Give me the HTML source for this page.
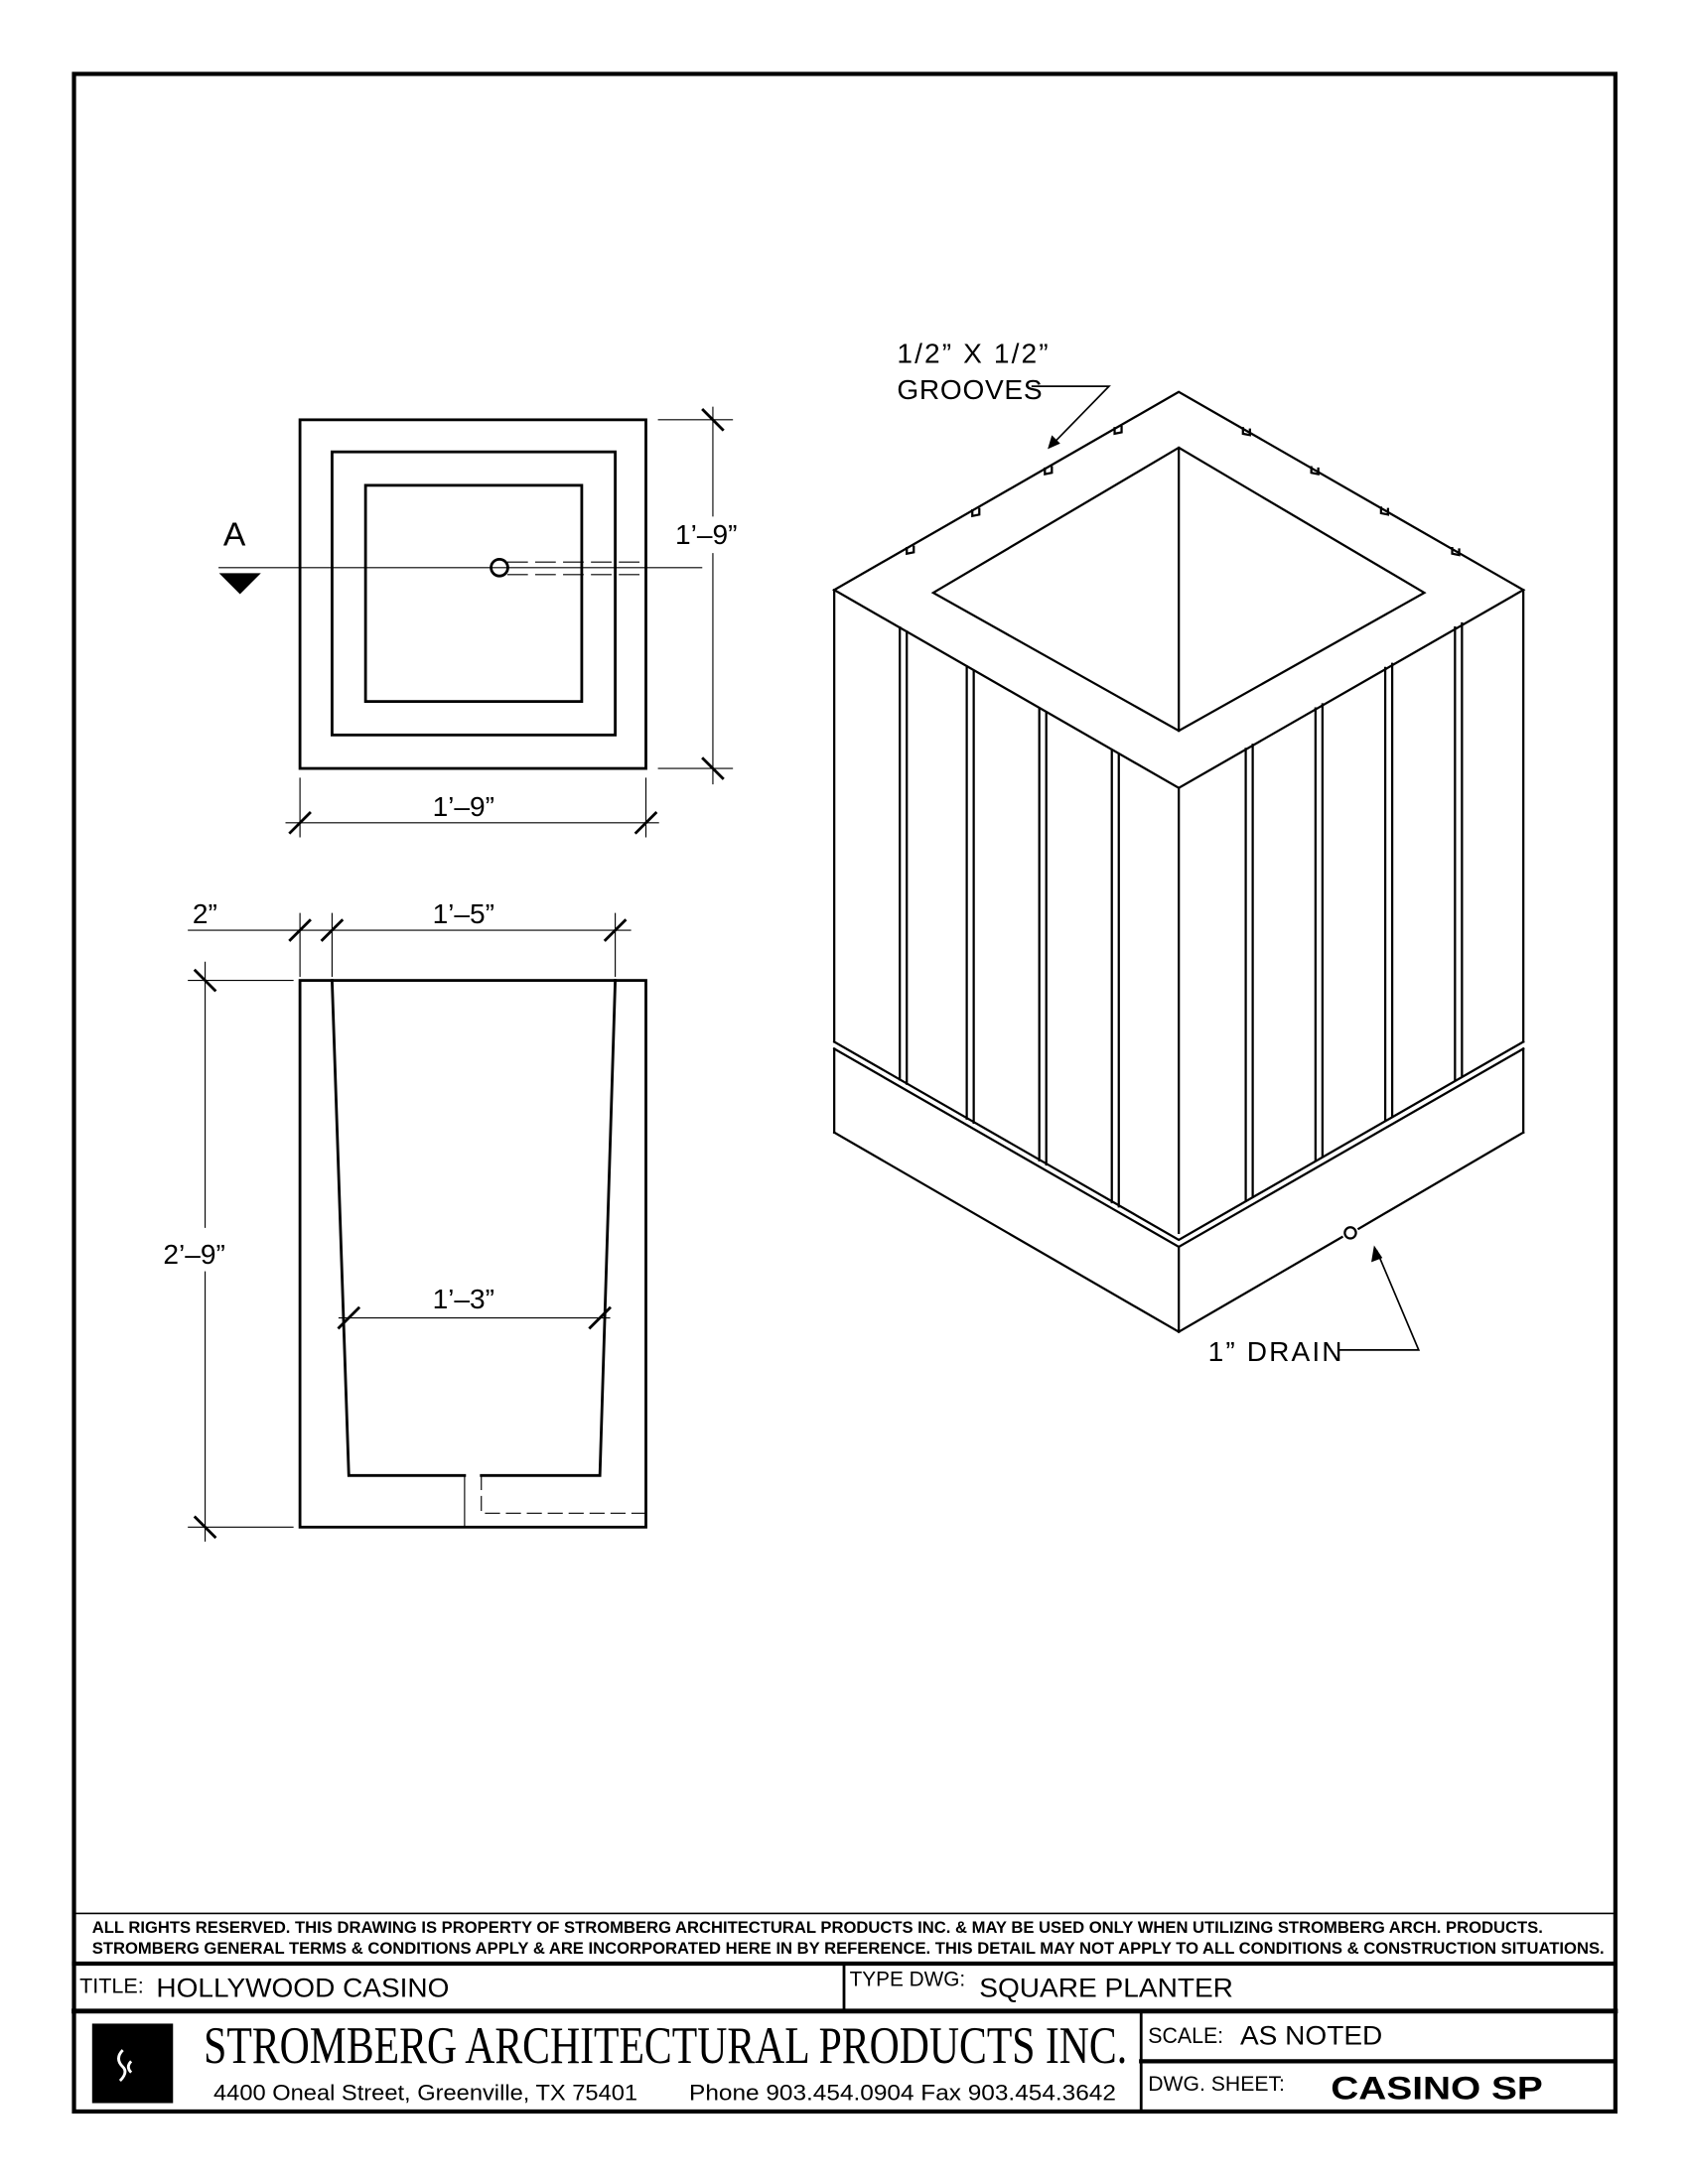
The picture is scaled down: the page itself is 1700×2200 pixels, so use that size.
<!DOCTYPE html>
<html><head><meta charset="utf-8"><style>
html,body{margin:0;padding:0;background:#fff;}
svg{display:block;}
text{font-family:"Liberation Sans",sans-serif;fill:#000;}
</style></head><body>
<svg width="1700" height="2200" viewBox="0 0 1210 1566" xmlns="http://www.w3.org/2000/svg">
<g fill="none" stroke="#000" stroke-linecap="square">
<rect x="53" y="53" width="1105" height="1461" stroke-width="3"/>
<line x1="53" y1="1372" x2="1158" y2="1372" stroke-width="1.2"/>
<line x1="53" y1="1408" x2="1158" y2="1408" stroke-width="3"/>
<line x1="53" y1="1442" x2="1158" y2="1442" stroke-width="3.5"/>
<line x1="605" y1="1408" x2="605" y2="1442" stroke-width="2"/>
<line x1="818" y1="1442" x2="818" y2="1514" stroke-width="2"/>
<line x1="818" y1="1478" x2="1158" y2="1478" stroke-width="3"/>

<rect x="215" y="301" width="248" height="250" stroke-width="2"/>
<rect x="238" y="324" width="203" height="203" stroke-width="2"/>
<rect x="262" y="348" width="155" height="155" stroke-width="2"/>
<line x1="157" y1="407" x2="503" y2="407" stroke-width="0.8"/>
<circle cx="358" cy="407" r="6" stroke-width="2"/>
<path d="M364 403H463 M364 412H463" stroke-width="0.8" stroke-dasharray="14,6"/>
<line x1="511" y1="292" x2="511" y2="370" stroke-width="0.8"/>
<line x1="511" y1="397" x2="511" y2="562" stroke-width="0.8"/>
<path d="M472 301H525 M472 551H525" stroke-width="0.8"/>
<path d="M504 294L518 308 M504 544L518 558" stroke-width="2"/>
<line x1="205" y1="590" x2="472" y2="590" stroke-width="0.8"/>
<path d="M215 558V600 M463 558V600" stroke-width="0.8"/>
<path d="M208 597L222 583 M456 597L470 583" stroke-width="2"/>

<rect x="215" y="703" width="248" height="392" stroke-width="2"/>
<path d="M238 703L250 1058H333 M345 1058H430L441 703" stroke-width="2"/>
<line x1="333" y1="1058" x2="333" y2="1095" stroke-width="0.8"/>
<path d="M345 1058V1085H463" stroke-width="0.8" stroke-dasharray="10,5"/>
<line x1="135" y1="667" x2="452" y2="667" stroke-width="0.8"/>
<path d="M215 655V700 M238 655V700 M441 655V700" stroke-width="0.8"/>
<path d="M208 674L222 660 M231 674L245 660 M434 674L448 660" stroke-width="2"/>
<line x1="147" y1="690" x2="147" y2="880" stroke-width="0.8"/>
<line x1="147" y1="912" x2="147" y2="1105" stroke-width="0.8"/>
<path d="M135 703H210 M135 1095H210" stroke-width="0.8"/>
<path d="M140 696L154 710 M140 1088L154 1102" stroke-width="2"/>
<line x1="243" y1="945" x2="437" y2="945" stroke-width="0.8"/>
<path d="M243 952L257 938 M423 952L437 938" stroke-width="2"/>

<g stroke-width="1.6" stroke-linejoin="miter">
<path d="M845 281L598 423L845 565L1092 423Z"/>
<path d="M845 321L669 425L845 524L1021 425Z"/>
<line x1="845" y1="321" x2="845" y2="524"/>
<line x1="598" y1="423" x2="598" y2="747"/>
<line x1="1092" y1="423" x2="1092" y2="747"/>
<line x1="845" y1="565" x2="845" y2="884"/>
<path d="M598 747L845 889L1092 747"/>
<path d="M598 752L845 894L1092 752"/>
<line x1="598" y1="752" x2="598" y2="812"/>
<line x1="1092" y1="752" x2="1092" y2="812"/>
<line x1="845" y1="894" x2="845" y2="955"/>
<path d="M598 812L845 955L962 887 M974 881L1092 812"/>
<path d="M645 450V774 M650 453V777 M693 478V802 M698 481V805 M745 508V832 M750 511V835 M797 538V862 M802 541V865"/>
<path d="M893 537V861 M898 534V858 M943 508V832 M948 505V829 M993 479V803 M998 476V800 M1043 450V774 M1048 447V771"/>
<path d="M650 393l0 4 5 -1 0 -4 M697 366l0 4 5 -1 0 -4 M749 336l0 4 5 -1 0 -4 M799 307l0 4 5 -1 0 -4"/>
<path d="M891 307l0 4 5 1 0 -4 M940 335l0 4 5 1 0 -4 M990 364l0 4 5 1 0 -4 M1041 393l0 4 5 1 0 -4"/>
<circle cx="968" cy="884" r="4" fill="#fff"/>
</g>
<path d="M740 277H795L755 318" stroke-width="1.2"/>
<path d="M960 968H1017L987 897" stroke-width="1.2"/>
</g>
<path d="M157 411H187L172 426Z" fill="#000"/>
<path d="M751 322L754 312L760 318Z M985 893L983 905L991 902Z" fill="#000"/>

<g font-size="20" style="font-family:'DejaVu Sans',sans-serif" fill="#000">
<text x="160" y="391" font-size="24">A</text>
<text x="484" y="390">1’–9”</text>
<text x="310" y="585">1’–9”</text>
<text x="138" y="662">2”</text>
<text x="310" y="662">1’–5”</text>
<text x="117" y="906">2’–9”</text>
<text x="310" y="938">1’–3”</text>
</g>
<g font-size="20" style="font-family:'DejaVu Sans',sans-serif" letter-spacing="1.5">
<text x="643" y="260">1/2”  X  1/2”</text>
<text x="643" y="286" letter-spacing="0.5">GROOVES</text>
<text x="866" y="976">1”  DRAIN</text>
</g>

<g font-weight="bold" font-size="11.5">
<text x="66" y="1386" textLength="1040" lengthAdjust="spacingAndGlyphs">ALL RIGHTS RESERVED. THIS DRAWING IS PROPERTY OF STROMBERG ARCHITECTURAL PRODUCTS INC. &amp; MAY BE USED ONLY WHEN UTILIZING STROMBERG ARCH. PRODUCTS.</text>
<text x="66" y="1401" textLength="1084" lengthAdjust="spacingAndGlyphs">STROMBERG GENERAL TERMS &amp; CONDITIONS APPLY &amp; ARE INCORPORATED HERE IN BY REFERENCE. THIS DETAIL MAY NOT APPLY TO ALL CONDITIONS &amp; CONSTRUCTION SITUATIONS.</text>
</g>
<text x="57" y="1429" font-size="15" textLength="46" lengthAdjust="spacingAndGlyphs">TITLE:</text>
<text x="112" y="1432" font-size="19" textLength="210" lengthAdjust="spacingAndGlyphs">HOLLYWOOD CASINO</text>
<text x="609" y="1424" font-size="15" textLength="83" lengthAdjust="spacingAndGlyphs">TYPE DWG:</text>
<text x="702" y="1432" font-size="19" textLength="182" lengthAdjust="spacingAndGlyphs">SQUARE PLANTER</text>
<text x="823" y="1465" font-size="16" textLength="54" lengthAdjust="spacingAndGlyphs">SCALE:</text>
<text x="889" y="1466" font-size="19" textLength="102" lengthAdjust="spacingAndGlyphs">AS NOTED</text>
<text x="823" y="1499" font-size="15" textLength="98" lengthAdjust="spacingAndGlyphs">DWG. SHEET:</text>
<text x="954" y="1505" font-size="23" font-weight="900" textLength="152" lengthAdjust="spacingAndGlyphs">CASINO SP</text>
<rect x="66" y="1451" width="58" height="57" fill="#000"/>
<path d="M88 1470q-6 6 0 12q4 4 -2 10 M94 1478q-4 4 0 8" stroke="#fff" stroke-width="2" fill="none"/>
<text x="146" y="1479" font-size="38" textLength="662" lengthAdjust="spacingAndGlyphs" style="font-family:'Liberation Serif',serif">STROMBERG ARCHITECTURAL PRODUCTS INC.</text>
<text x="153" y="1506" font-size="16" textLength="304" lengthAdjust="spacingAndGlyphs">4400 Oneal Street, Greenville, TX  75401</text>
<text x="494" y="1506" font-size="16" textLength="306" lengthAdjust="spacingAndGlyphs">Phone 903.454.0904   Fax 903.454.3642</text>
</svg>
</body></html>
